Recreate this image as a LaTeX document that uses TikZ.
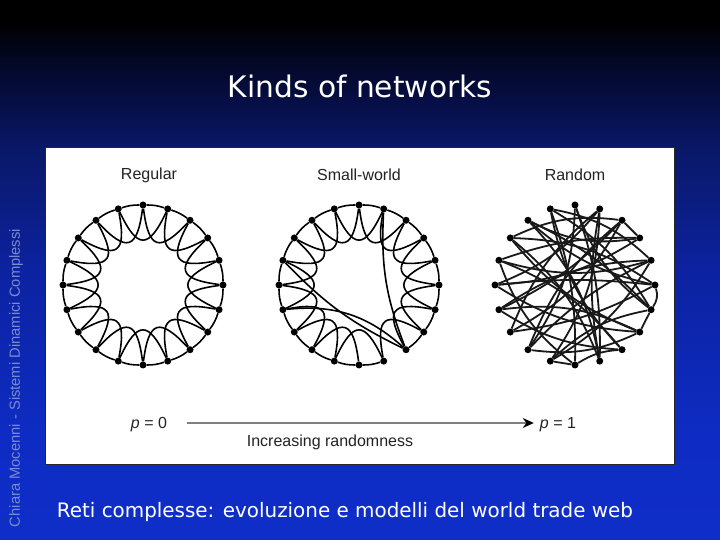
\documentclass[tikz,border=0pt]{standalone}
\usepackage{fontspec}
\setmainfont{Liberation Sans}
\newfontfamily\comicfont{DejaVu Sans}
\usetikzlibrary{calc,arrows.meta}
\definecolor{bgA}{RGB}{15,46,200}
\definecolor{bgB}{RGB}{14,44,195}
\definecolor{bgC}{RGB}{12,34,160}
\definecolor{bgD}{RGB}{10,24,105}
\definecolor{bgE}{RGB}{4,10,50}
\definecolor{bgF}{RGB}{0,0,0}
\definecolor{sidetext}{RGB}{120,140,210}
\definecolor{labelgray}{RGB}{35,35,35}
\pgfdeclareverticalshading{bgshade}{100bp}{color(0bp)=(bgA); color(25bp)=(bgA); color(35bp)=(bgB); color(50bp)=(bgC); color(61bp)=(bgD); color(68bp)=(bgE); color(73bp)=(bgF); color(100bp)=(bgF)}
\tikzset{
  dot/.style={circle, fill=black, inner sep=0pt, minimum size=7pt},
  netline/.style={line width=1.6pt, black},
  rndline/.style={line width=1.8pt, black!90},
  lbl/.style={font=\fontsize{16}{18}\selectfont, text=labelgray, inner sep=1pt},
  arrowline/.style={line width=2.2pt, black!50, -{Stealth[length=11pt,width=10pt,black]}},
  panel/.style={fill=white, draw=black!85, line width=0.8pt},
}
\begin{document}
\begin{tikzpicture}[x=1pt,y=1pt]
\useasboundingbox (0,0) rectangle (720,540);
\shade[shading=bgshade] (0,0) rectangle (720,540);

% title and texts
\node[text=white, inner sep=0pt] (title) at (360,454) {\resizebox{264pt}{!}{\comicfont Kinds of networks}};
\node[text=white, inner sep=0pt] (footer) at (345,28) {\resizebox{576pt}{!}{\comicfont Reti complesse: evoluzione e modelli del world trade web}};
\node[text=sidetext, rotate=90, inner sep=0pt] (side) at (16,162) {\resizebox{298pt}{!}{Chiara Mocenni - Sistemi Dinamici Complessi}};

% white panel
\draw[panel] (45,76) rectangle (674,393);

% labels
\node[lbl] (lreg) at (149,365) {Regular};
\node[lbl] (lsw) at (359,365) {Small-world};
\node[lbl] (lrnd) at (575,365) {Random};
\node[lbl] (p0) at (149,115) {{\itshape p} = 0};
\node[lbl] (p1) at (558,115) {{\itshape p} = 1};
\node[lbl] (incr) at (330,98) {Increasing randomness};
\draw[arrowline, shorten <=19pt, shorten >=5pt] ([yshift=2pt]p0.east) -- ([yshift=2pt]p1.west);

% ---------- Regular ----------
\coordinate (RC) at (143,255);
\foreach \k in {0,...,19}{
  \node[dot] (R\k) at ($(RC)+({90+18*\k}:80)$) {};
}
\foreach \k in {0,...,19}{
  \pgfmathtruncatemacro{\nA}{mod(\k+1,20)}
  \pgfmathtruncatemacro{\nB}{mod(\k+2,20)}
  \draw[netline] (R\k) to[bend right=9] (R\nA);
  \draw[netline] (R\k) .. controls ($(RC)+({90+18*\k+9}:36)$) and ($(RC)+({90+18*\k+27}:36)$) .. (R\nB);
}

% ---------- Small-world ----------
\coordinate (SC) at (359,255);
\foreach \k in {0,...,19}{
  \node[dot] (S\k) at ($(SC)+({90+18*\k}:80)$) {};
}
\foreach \k in {0,...,19}{
  \pgfmathtruncatemacro{\nA}{mod(\k+1,20)}
  \pgfmathtruncatemacro{\nB}{mod(\k+2,20)}
  \ifnum\k=11 \else
    \draw[netline] (S\k) to[bend right=9] (S\nA);
  \fi
  \ifnum\k=10 \else
    \draw[netline] (S\k) .. controls ($(SC)+({90+18*\k+9}:36)$) and ($(SC)+({90+18*\k+27}:36)$) .. (S\nB);
  \fi
}
\draw[netline] (S4) to[bend right=10] (S12);
\draw[netline] (S6) to[bend left=24] (S12);
\draw[netline] (S19) to[bend right=12] (S12);

% ---------- Random ----------
\coordinate (NC) at (575,255);
\foreach \k in {0,...,19}{
  \node[dot] (N\k) at ($(NC)+({90+18*\k}:80)$) {};
}
\foreach \a/\b/\c in {0/8/16, 0/14/-16, 0/11/10, 19/7/-14, 19/9/16, 19/11/-10, 19/5/14,
  1/14/14, 1/12/-16, 1/10/10, 1/16/16, 2/15/-14, 2/11/16, 2/14/10, 2/17/-18,
  18/17/0, 18/7/16, 18/8/-14, 18/6/10, 18/3/-16, 17/5/14, 17/4/-10,
  3/15/16, 3/13/-14, 3/11/14, 16/6/-16, 16/9/14, 16/4/16, 16/8/-10,
  4/12/14, 4/10/-16, 5/15/6, 5/13/-14, 6/13/16, 6/12/-14, 15/14/25,
  15/7/10, 13/14/0, 13/8/16, 12/10/-14, 9/10/0, 9/14/16}{
  \draw[rndline] (N\a) to[bend left=\c] (N\b);
}
\end{tikzpicture}
\end{document}
